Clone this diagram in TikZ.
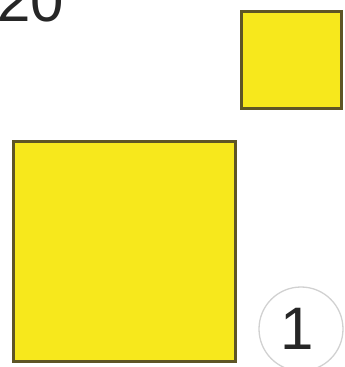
\documentclass[tikz,border=0pt]{standalone}
\usepackage{fontspec}
\setmainfont{Liberation Sans}
\definecolor{sqfill}{HTML}{F7E81C}
\definecolor{sqline}{HTML}{5E5525}
\tikzset{
  yellowsq/.style={draw=sqline, fill=sqfill, line width=3pt, inner sep=0pt},
  numtext/.style={text=black!85, inner sep=0pt, font=\fontsize{60}{60}\selectfont},
  numring/.style={draw=black!18, circle, line width=1.3pt, inner sep=0pt, minimum size=84pt}
}
\begin{document}
\begin{tikzpicture}[x=1pt, y=1pt]
    \useasboundingbox (0,0) rectangle (345,367);
    \node[numtext, anchor=base west] (label) at (-3,345) {20};
    \node[yellowsq, minimum width=100pt, minimum height=97pt] (small) at (291.5,307) {};
    \node[yellowsq, minimum width=222pt, minimum height=220pt] (big) at (124.5,115.5) {};
    \node[numring] (ring) at (301,38) {};
    \node[numtext, anchor=base] (one) at (297,17) {1};
\end{tikzpicture}
\end{document}
